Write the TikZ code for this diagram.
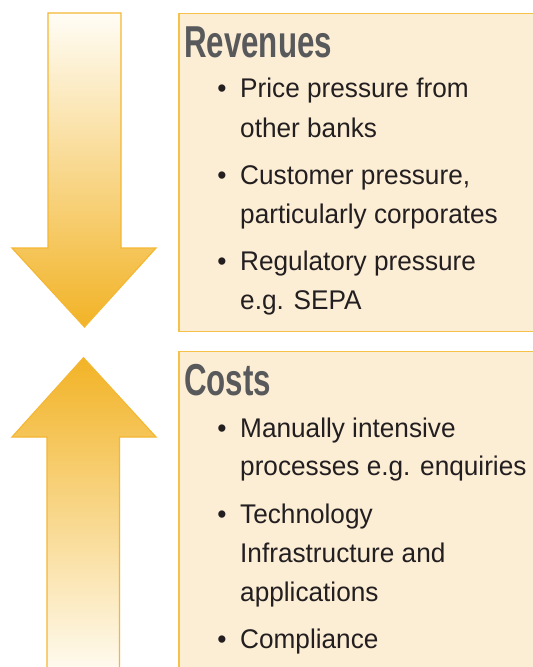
\documentclass[tikz,border=0pt]{standalone}
\usepackage{fontspec}
\setmainfont{Liberation Sans}[FakeStretch=0.97]
\newfontfamily\titlefont{Liberation Sans}[FakeStretch=0.70]
\definecolor{boxfill}{RGB}{252,237,213}
\definecolor{boxline}{RGB}{246,193,72}
\definecolor{arrline}{RGB}{244,183,52}
\definecolor{arrtop}{RGB}{255,253,246}
\definecolor{arrbot}{RGB}{242,179,38}
\definecolor{titlegray}{RGB}{88,89,91}
\definecolor{bodytext}{RGB}{35,31,32}
\tikzset{
  panel/.style={draw=boxline, line width=1.3pt, fill=boxfill},
  bigarrow/.style={draw=arrline, line width=1.2pt, line join=miter},
  titletext/.style={anchor=base west, inner sep=0pt, text=titlegray,
    font=\titlefont\bfseries\fontsize{44.7}{50}\selectfont},
  itemtext/.style={anchor=base west, inner sep=0pt, text=bodytext,
    font=\fontsize{27}{39.5}\selectfont},
  dot/.style={anchor=base, inner sep=0pt, text=bodytext,
    font=\fontsize{27}{39.5}\selectfont},
}
\begin{document}
\begin{tikzpicture}[x=1pt,y=-1pt]
\useasboundingbox (0,0) rectangle (533,667);
\clip (0,0) rectangle (533,667);
% down arrow
\path[bigarrow, top color=arrtop, bottom color=arrbot]
  (48,13) -- (121,13) -- (121,248) -- (156,248) -- (84.5,327) -- (12,248) -- (48,248) -- cycle;
% up arrow
\path[bigarrow, bottom color=arrtop, top color=arrbot]
  (47,680) -- (47,437) -- (12,437) -- (83.5,357.7) -- (156,437) -- (119.5,437) -- (119.5,680) -- cycle;
% panels
\path[panel] (179,13.3) rectangle (560,331.7);
\path[panel] (179,351.7) rectangle (560,690);
% Revenues
\node[titletext] (revtitle) at (184,57) {Revenues};
\node[dot] (rb1) at (222,97.7) {•};
\node[itemtext] (r1a) at (240,97.7) {Price pressure from};
\node[itemtext] (r1b) at (240,137.3) {other banks};
\node[dot] (rb2) at (222,184) {•};
\node[itemtext] (r2a) at (240,184) {Customer pressure,};
\node[itemtext] (r2b) at (240,223) {particularly corporates};
\node[dot] (rb3) at (222,270.7) {•};
\node[itemtext] (r3a) at (240,270.7) {Regulatory pressure};
\node[itemtext] (r3b) at (240,309) {e.g. SEPA};
% Costs
\node[titletext] (costtitle) at (184,395.5) {Costs};
\node[dot] (cb1) at (222,437) {•};
\node[itemtext] (c1a) at (240,437) {Manually intensive};
\node[itemtext] (c1b) at (240,475.5) {processes e.g. enquiries};
\node[dot] (cb2) at (222,523.5) {•};
\node[itemtext] (c2a) at (240,523.5) {Technology};
\node[itemtext] (c2b) at (240,562.5) {Infrastructure and};
\node[itemtext] (c2c) at (240,601) {applications};
\node[dot] (cb3) at (222,648) {•};
\node[itemtext] (c3a) at (240,648) {Compliance};
\end{tikzpicture}
\end{document}
